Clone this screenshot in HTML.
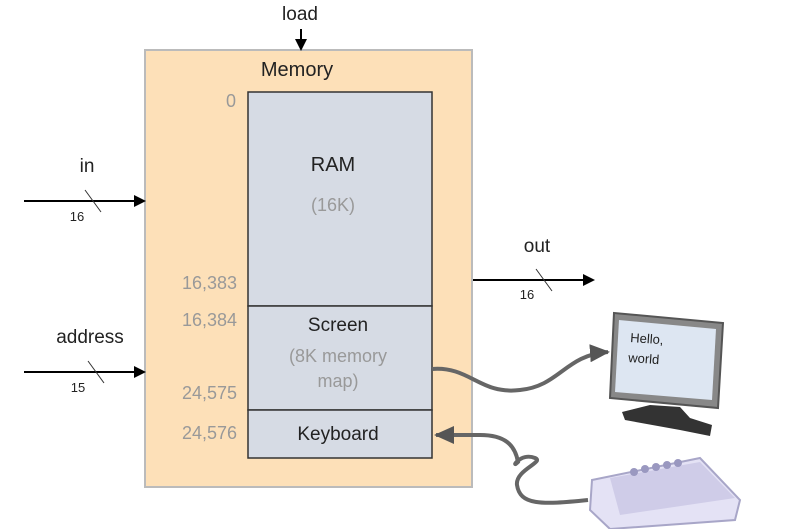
<!DOCTYPE html>
<html><head><meta charset="utf-8"><style>
body{margin:0;background:#fff;}
svg{display:block;font-family:"Liberation Sans",sans-serif;}
</style></head><body>
<svg width="800" height="529" viewBox="0 0 800 529">
<defs>
<marker id="a" markerWidth="12" markerHeight="12" refX="10" refY="6" orient="auto" markerUnits="userSpaceOnUse"><path d="M0,0 L12,6 L0,12 z" fill="#000"/></marker>
<marker id="g" markerWidth="20" markerHeight="18" refX="18" refY="9" orient="auto" markerUnits="userSpaceOnUse"><path d="M0,0 L20,9 L0,18 z" fill="#555"/></marker>
</defs>
<rect x="145" y="50" width="327" height="437" fill="#fde0b8" stroke="#bbb" stroke-width="2"/>
<text x="297" y="76" font-size="20" text-anchor="middle" fill="#222">Memory</text>
<text x="300" y="20" font-size="19" text-anchor="middle" fill="#222">load</text>
<line x1="301" y1="29" x2="301" y2="49" stroke="#000" stroke-width="2" marker-end="url(#a)"/>
<rect x="248" y="92" width="184" height="214" fill="#d6dbe4" stroke="#333" stroke-width="1.5"/>
<rect x="248" y="306" width="184" height="104" fill="#d6dbe4" stroke="#333" stroke-width="1.5"/>
<rect x="248" y="410" width="184" height="48" fill="#d6dbe4" stroke="#333" stroke-width="1.5"/>
<text x="333" y="171" font-size="20" text-anchor="middle" fill="#222">RAM</text>
<text x="333" y="211" font-size="18" text-anchor="middle" fill="#999">(16K)</text>
<text x="338" y="331" font-size="19" text-anchor="middle" fill="#222">Screen</text>
<text x="338" y="362" font-size="18" text-anchor="middle" fill="#999">(8K memory</text>
<text x="338" y="387" font-size="18" text-anchor="middle" fill="#999">map)</text>
<text x="338" y="440" font-size="19" text-anchor="middle" fill="#222">Keyboard</text>
<g font-size="18" fill="#999" text-anchor="end">
<text x="236" y="107">0</text>
<text x="237" y="289">16,383</text>
<text x="237" y="326">16,384</text>
<text x="237" y="399">24,575</text>
<text x="237" y="439">24,576</text>
</g>
<text x="87" y="172" font-size="19" text-anchor="middle" fill="#222">in</text>
<line x1="24" y1="201" x2="144" y2="201" stroke="#000" stroke-width="2" marker-end="url(#a)"/>
<line x1="85" y1="190" x2="101" y2="212" stroke="#333" stroke-width="1"/>
<text x="77" y="221" font-size="13" text-anchor="middle" fill="#222">16</text>
<text x="90" y="343" font-size="19" text-anchor="middle" fill="#222">address</text>
<line x1="24" y1="372" x2="144" y2="372" stroke="#000" stroke-width="2" marker-end="url(#a)"/>
<line x1="88" y1="361" x2="104" y2="383" stroke="#333" stroke-width="1"/>
<text x="78" y="392" font-size="13" text-anchor="middle" fill="#222">15</text>
<text x="537" y="252" font-size="19" text-anchor="middle" fill="#222">out</text>
<line x1="473" y1="280" x2="593" y2="280" stroke="#000" stroke-width="2" marker-end="url(#a)"/>
<line x1="536" y1="269" x2="552" y2="291" stroke="#333" stroke-width="1"/>
<text x="527" y="299" font-size="13" text-anchor="middle" fill="#222">16</text>
<path d="M432,369 C470,366 480,395 520,390 C560,386 565,355 608,352" fill="none" stroke="#666" stroke-width="4" marker-end="url(#g)"/>
<path d="M588,500 C540,505 520,505 517,485 C515,470 545,462 535,458 C520,452 510,470 518,462 C515,445 505,435 480,435 L436,435" fill="none" stroke="#666" stroke-width="4" marker-end="url(#g)"/>
<g>
<path d="M614,313 L723,323 L718,408 L610,398 z" fill="#888" stroke="#555" stroke-width="2"/>
<path d="M619,320 L716,329 L712,400 L615,392 z" fill="#dde6f2"/>
<text x="630" y="342" font-size="13" fill="#222" transform="rotate(4 630 342)">Hello,</text>
<text x="628" y="362" font-size="13" fill="#222" transform="rotate(4 628 362)">world</text>
<path d="M650,405 L680,407 L690,418 L712,425 L710,436 L680,430 L625,420 L622,412 z" fill="#333"/>
</g>
<g>
<path d="M592,480 L700,458 L740,500 L735,520 L610,529 L590,510 z" fill="#e4e2f5" stroke="#a8a6c8" stroke-width="2"/>
<path d="M610,478 L700,462 L735,498 L620,515 z" fill="#cfcce8"/>
<circle cx="634" cy="472" r="4" fill="#9a98c0"/><circle cx="645" cy="469" r="4" fill="#9a98c0"/><circle cx="656" cy="467" r="4" fill="#9a98c0"/><circle cx="667" cy="465" r="4" fill="#9a98c0"/><circle cx="678" cy="463" r="4" fill="#9a98c0"/>
</g>
</svg>
</body></html>
